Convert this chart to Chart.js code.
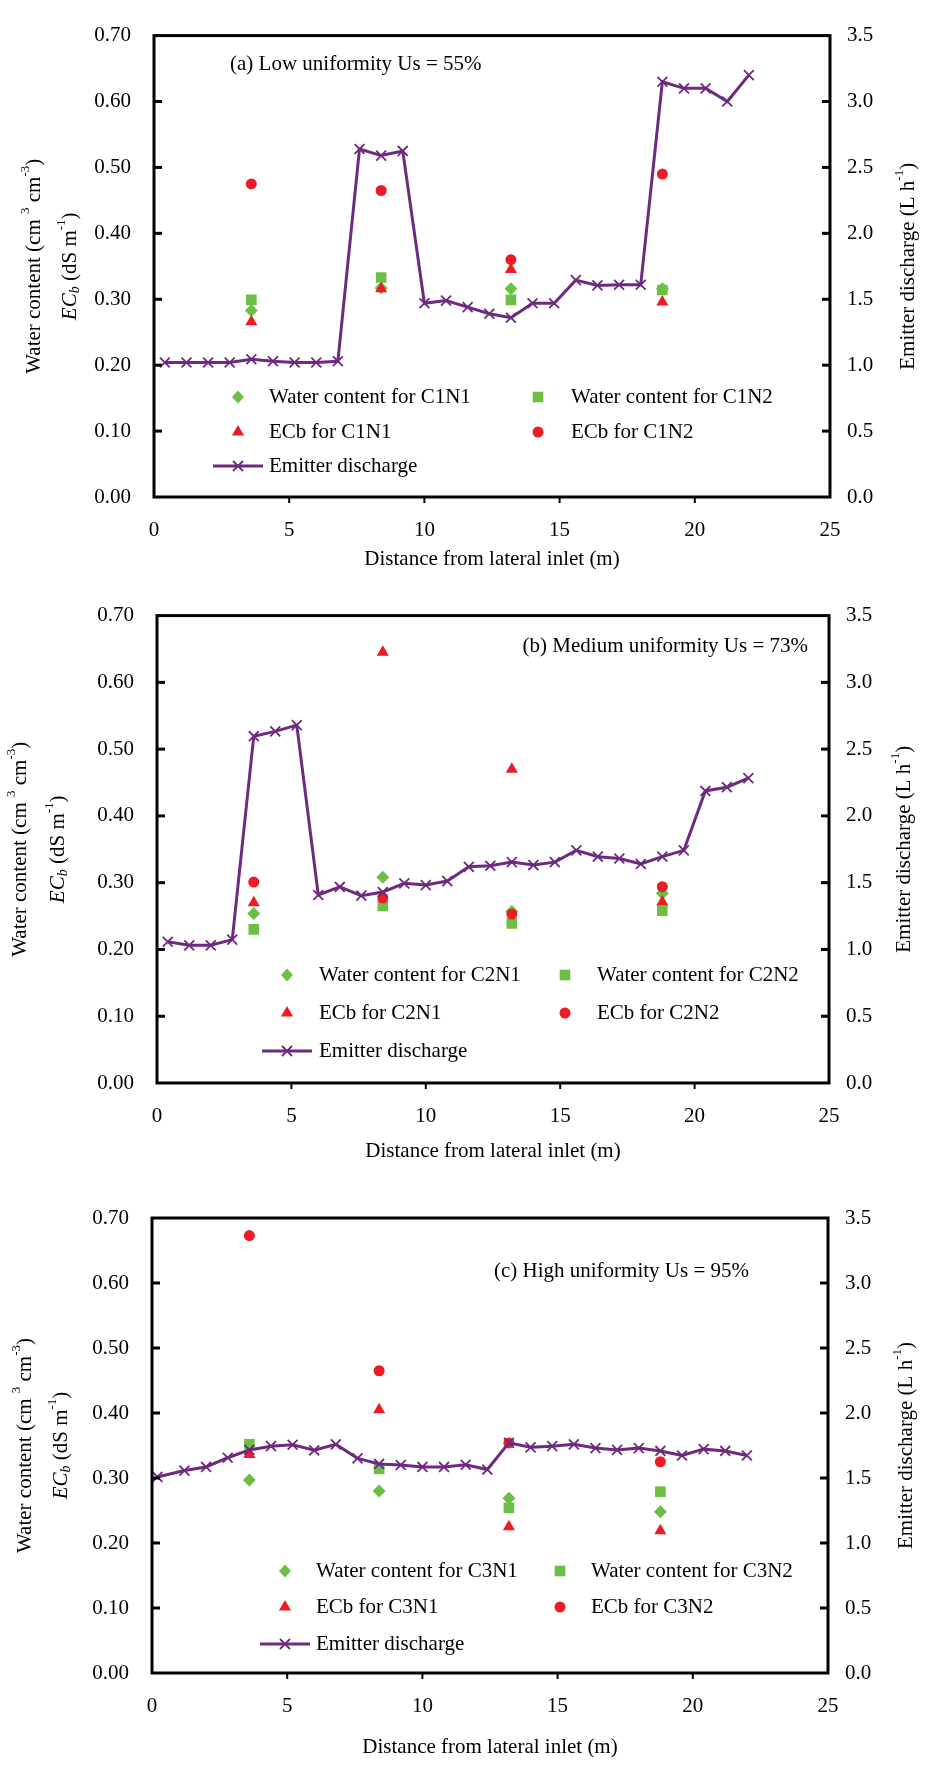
<!DOCTYPE html>
<html>
<head>
<meta charset="utf-8">
<script src="https://cdn.jsdelivr.net/npm/chart.js@4.4.1/dist/chart.umd.min.js"></script>
<style>
  body { margin: 0; background: #fff; }
  #wrap { position: relative; width: 930px; height: 1765px; }
  canvas { position: absolute; left: 0; }
</style>
</head>
<body>
<div id="wrap">
  <canvas id="chartA" width="930" height="580" style="top:0px"></canvas>
  <canvas id="chartB" width="930" height="600" style="top:580px"></canvas>
  <canvas id="chartC" width="930" height="585" style="top:1180px"></canvas>
</div>
<script>
// sampling points along the lateral (m)
const sampleX = [3.6, 8.4, 13.2, 18.8];

// emitter positions (m)
const emitterX = [0.4, 1.2, 2.0, 2.8, 3.6, 4.4, 5.2, 6.0, 6.8, 7.6, 8.4, 9.2, 10.0, 10.8,
                  11.6, 12.4, 13.2, 14.0, 14.8, 15.6, 16.4, 17.2, 18.0, 18.8, 19.6, 20.4, 21.2, 22.0];
const emitterXHigh = [0.2, 1.2, 2.0, 2.8, 3.6, 4.4, 5.2, 6.0, 6.8, 7.6, 8.4, 9.2, 10.0, 10.8,
                      11.6, 12.4, 13.2, 14.0, 14.8, 15.6, 16.4, 17.2, 18.0, 18.8, 19.6, 20.4, 21.2, 22.0];

// (a) low uniformity
const dischargeLow = [1.02, 1.02, 1.02, 1.02, 1.045, 1.03, 1.02, 1.02, 1.03, 2.64, 2.59, 2.625, 1.47, 1.49,
                      1.44, 1.39, 1.36, 1.47, 1.47, 1.645, 1.605, 1.61, 1.61, 3.15, 3.10, 3.10, 3.00, 3.20];
const wcN1Low = [0.283, 0.317, 0.316, 0.316];
const wcN2Low = [0.299, 0.333, 0.299, 0.314];
const ecN1Low = [0.266, 0.316, 0.345, 0.296];
const ecN2Low = [0.475, 0.465, 0.360, 0.490];

// (b) medium uniformity
const dischargeMed = [1.058, 1.031, 1.031, 1.074, 2.597, 2.633, 2.68, 1.408, 1.468, 1.403, 1.43, 1.495, 1.482, 1.512,
                      1.619, 1.627, 1.654, 1.632, 1.654, 1.742, 1.695, 1.681, 1.64, 1.695, 1.742, 2.187, 2.215, 2.283];
const wcN1Med = [0.254, 0.308, 0.257, 0.284];
const wcN2Med = [0.230, 0.265, 0.239, 0.258];
const ecN1Med = [0.270, 0.645, 0.470, 0.271];
const ecN2Med = [0.301, 0.277, 0.253, 0.294];

// (c) high uniformity
const dischargeHigh = [1.508, 1.557, 1.585, 1.656, 1.716, 1.745, 1.756, 1.713, 1.759, 1.651, 1.608, 1.600, 1.585, 1.585,
                       1.602, 1.565, 1.770, 1.736, 1.745, 1.759, 1.730, 1.716, 1.730, 1.708, 1.673, 1.722, 1.708, 1.673];
const wcN1High = [0.297, 0.280, 0.269, 0.248];
const wcN2High = [0.352, 0.314, 0.254, 0.279];
const ecN1High = [0.336, 0.405, 0.225, 0.219];
const ecN2High = [0.673, 0.465, 0.354, 0.325];

const GREEN = '#6DBE45';
const RED = '#ED1C24';
const PURPLE = '#6E2A7E';
const FONT = '"Liberation Serif", "Times New Roman", serif';

function pts(xs, ys) {
  return xs.map((x, i) => ({ x: x, y: ys[i] }));
}

// draws a list of text runs (normal/sup/sub/italic) centred or aligned at x,y
function drawRuns(ctx, runs, x, y, align) {
  let total = 0;
  runs.forEach(r => { ctx.font = r.f; total += ctx.measureText(r.t).width; });
  let cx = align === 'center' ? x - total / 2 : (align === 'right' ? x - total : x);
  ctx.textAlign = 'left';
  ctx.textBaseline = 'middle';
  runs.forEach(r => {
    ctx.font = r.f;
    ctx.fillText(r.t, cx, y + (r.dy || 0));
    cx += ctx.measureText(r.t).width;
  });
}

function drawMarker(ctx, style, x, y) {
  ctx.save();
  if (style === 'rectRot') {
    ctx.fillStyle = GREEN;
    ctx.beginPath();
    ctx.moveTo(x, y - 6.5); ctx.lineTo(x + 6, y); ctx.lineTo(x, y + 6.5); ctx.lineTo(x - 6, y);
    ctx.closePath(); ctx.fill();
  } else if (style === 'rect') {
    ctx.fillStyle = GREEN;
    ctx.fillRect(x - 5.3, y - 5.3, 10.6, 10.6);
  } else if (style === 'triangle') {
    ctx.fillStyle = RED;
    ctx.beginPath();
    ctx.moveTo(x, y - 7); ctx.lineTo(x + 6.1, y + 3.5); ctx.lineTo(x - 6.1, y + 3.5);
    ctx.closePath(); ctx.fill();
  } else if (style === 'circle') {
    ctx.fillStyle = RED;
    ctx.beginPath(); ctx.arc(x, y, 5.5, 0, Math.PI * 2); ctx.fill();
  } else if (style === 'line') {
    ctx.strokeStyle = PURPLE;
    ctx.lineWidth = 3;
    ctx.beginPath(); ctx.moveTo(x - 25, y); ctx.lineTo(x + 25, y); ctx.stroke();
    ctx.lineWidth = 1.8;
    ctx.beginPath();
    ctx.moveTo(x - 5, y - 5); ctx.lineTo(x + 5, y + 5);
    ctx.moveTo(x + 5, y - 5); ctx.lineTo(x - 5, y + 5);
    ctx.stroke();
  }
  ctx.restore();
}

const decor = {
  id: 'decor',
  afterDraw(chart, args, p) {
    const ctx = chart.ctx;
    const a = chart.chartArea;
    const sx = chart.scales.x, sy = chart.scales.y, sy2 = chart.scales.y2;
    ctx.save();
    ctx.strokeStyle = '#000';
    ctx.fillStyle = '#000';
    ctx.lineWidth = 3;
    ctx.strokeRect(a.left, a.top, a.right - a.left, a.bottom - a.top);

    // inward y ticks, outward x ticks
    sy.ticks.forEach(t => {
      if (t.value <= 0.001 || t.value >= 0.699) return;
      const y = sy.getPixelForValue(t.value);
      ctx.beginPath(); ctx.moveTo(a.left, y); ctx.lineTo(a.left + 8, y); ctx.stroke();
    });
    sy2.ticks.forEach(t => {
      if (t.value <= 0.001 || t.value >= 3.499) return;
      const y = sy2.getPixelForValue(t.value);
      ctx.beginPath(); ctx.moveTo(a.right, y); ctx.lineTo(a.right - 8, y); ctx.stroke();
    });
    ctx.lineWidth = 2;
    sx.ticks.forEach(t => {
      if (t.value <= 0 || t.value >= 25) return;
      const x = sx.getPixelForValue(t.value);
      ctx.beginPath(); ctx.moveTo(x, a.bottom); ctx.lineTo(x, a.bottom + 6); ctx.stroke();
    });

    const N = '21px ' + FONT, S = '13px ' + FONT, I = 'italic 21px ' + FONT, IS = 'italic 14px ' + FONT;
    const midY = (a.top + a.bottom) / 2;

    // x title
    drawRuns(ctx, [{ t: 'Distance from lateral inlet (m)', f: N }], (a.left + a.right) / 2, p.xTitleY, 'center');

    // left titles
    ctx.save();
    ctx.translate(p.yTitleX1, midY);
    ctx.rotate(-Math.PI / 2);
    drawRuns(ctx, [{ t: 'Water content (cm ', f: N }, { t: '3', f: S, dy: -8 }, { t: ' cm', f: N }, { t: '-3', f: S, dy: -8 }, { t: ')', f: N }], 0, 0, 'center');
    ctx.restore();
    ctx.save();
    ctx.translate(p.yTitleX2, midY);
    ctx.rotate(-Math.PI / 2);
    drawRuns(ctx, [{ t: 'EC', f: I }, { t: 'b', f: IS, dy: 5 }, { t: ' (dS m', f: N }, { t: '-1', f: S, dy: -8 }, { t: ')', f: N }], 0, 0, 'center');
    ctx.restore();

    // right title
    ctx.save();
    ctx.translate(p.rTitleX, midY);
    ctx.rotate(-Math.PI / 2);
    drawRuns(ctx, [{ t: 'Emitter discharge (L h', f: N }, { t: '-1', f: S, dy: -8 }, { t: ')', f: N }], 0, 0, 'center');
    ctx.restore();

    // panel note
    drawRuns(ctx, [{ t: p.note, f: N }], p.noteX, p.noteY, p.noteAlign);

    // legend
    const L = p.legend;
    const ds = chart.data.datasets;
    const items = [
      [ds[4], 'rectRot', L.m1, L.t1, L.rows[0]],
      [ds[3], 'rect', L.m2, L.t2, L.rows[0]],
      [ds[2], 'triangle', L.m1, L.t1, L.rows[1]],
      [ds[1], 'circle', L.m2, L.t2, L.rows[1]],
      [ds[0], 'line', L.m1, L.t1, L.rows[2]]
    ];
    items.forEach(it => {
      drawMarker(ctx, it[1], it[2], it[4]);
      ctx.fillStyle = '#000';
      drawRuns(ctx, [{ t: it[0].label, f: N }], it[3], it[4], 'left');
    });
    ctx.restore();
  }
};

function makeChart(p) {
  const tickFont = { family: FONT, size: 21 };
  return new Chart(document.getElementById(p.id), {
    type: 'scatter',
    data: {
      datasets: [
        { label: 'Emitter discharge', data: pts(p.ex, p.q), yAxisID: 'y2', showLine: true,
          borderColor: PURPLE, borderWidth: 3, pointStyle: 'crossRot', pointRadius: 7,
          pointBorderColor: PURPLE, pointBackgroundColor: PURPLE, pointBorderWidth: 1.8, order: 0 },
        { label: 'ECb for ' + p.n2, data: pts(sampleX, p.ec2), yAxisID: 'y', pointStyle: 'circle',
          pointRadius: 5.5, backgroundColor: RED, borderColor: RED, pointBorderWidth: 0, order: 1 },
        { label: 'ECb for ' + p.n1, data: pts(sampleX, p.ec1), yAxisID: 'y', pointStyle: 'triangle',
          pointRadius: 7, backgroundColor: RED, borderColor: RED, pointBorderWidth: 0, order: 2 },
        { label: 'Water content for ' + p.n2, data: pts(sampleX, p.wc2), yAxisID: 'y', pointStyle: 'rect',
          pointRadius: 7.5, backgroundColor: GREEN, borderColor: GREEN, pointBorderWidth: 0, order: 3 },
        { label: 'Water content for ' + p.n1, data: pts(sampleX, p.wc1), yAxisID: 'y', pointStyle: 'rectRot',
          pointRadius: 6.5, backgroundColor: GREEN, borderColor: GREEN, pointBorderWidth: 0, order: 4 }
      ]
    },
    options: {
      responsive: false,
      animation: false,
      devicePixelRatio: 1,
      layout: { padding: { top: p.top, left: 0, right: 0, bottom: 0 } },
      plugins: { legend: { display: false }, tooltip: { enabled: false }, decor: p },
      scales: {
        x: {
          type: 'linear', position: 'bottom', min: 0, max: 25,
          ticks: { stepSize: 5, padding: 21, font: tickFont, color: '#000', maxRotation: 0 },
          grid: { display: false, drawTicks: false }, border: { display: false },
          afterFit: s => { s.height = p.xh; }
        },
        y: {
          type: 'linear', position: 'left', min: 0, max: 0.7,
          ticks: { stepSize: 0.1, padding: 23, font: tickFont, color: '#000', callback: v => v.toFixed(2) },
          grid: { display: false, drawTicks: false }, border: { display: false },
          afterFit: s => { s.width = p.left; }
        },
        y2: {
          type: 'linear', position: 'right', min: 0, max: 3.5,
          ticks: { stepSize: 0.5, padding: 17, font: tickFont, color: '#000', callback: v => v.toFixed(1) },
          grid: { display: false, drawTicks: false }, border: { display: false },
          afterFit: s => { s.width = 930 - p.right; }
        }
      }
    },
    plugins: [decor]
  });
}

makeChart({
  id: 'chartA', n1: 'C1N1', n2: 'C1N2',
  ex: emitterX, q: dischargeLow, wc1: wcN1Low, wc2: wcN2Low, ec1: ecN1Low, ec2: ecN2Low,
  left: 154, right: 830, top: 20, xh: 83,
  xTitleY: 559, yTitleX1: 34, yTitleX2: 70, rTitleX: 908,
  note: '(a) Low uniformity Us = 55%', noteX: 230, noteY: 64, noteAlign: 'left',
  legend: { m1: 238, t1: 269, m2: 538, t2: 571, rows: [397, 432, 466] }
});

makeChart({
  id: 'chartB', n1: 'C2N1', n2: 'C2N2',
  ex: emitterX, q: dischargeMed, wc1: wcN1Med, wc2: wcN2Med, ec1: ecN1Med, ec2: ecN2Med,
  left: 157, right: 829, top: 32, xh: 97,
  xTitleY: 571, yTitleX1: 20, yTitleX2: 58, rTitleX: 904,
  note: '(b) Medium uniformity Us = 73%', noteX: 808, noteY: 66, noteAlign: 'right',
  legend: { m1: 287, t1: 319, m2: 565, t2: 597, rows: [395, 433, 471] }
});

makeChart({
  id: 'chartC', n1: 'C3N1', n2: 'C3N2',
  ex: emitterXHigh, q: dischargeHigh, wc1: wcN1High, wc2: wcN2High, ec1: ecN1High, ec2: ecN2High,
  left: 152, right: 828, top: 38, xh: 92,
  xTitleY: 567, yTitleX1: 25, yTitleX2: 61, rTitleX: 906,
  note: '(c) High uniformity Us = 95%', noteX: 749, noteY: 91, noteAlign: 'right',
  legend: { m1: 285, t1: 316, m2: 560, t2: 591, rows: [391, 427, 464] }
});
</script>
</body>
</html>
